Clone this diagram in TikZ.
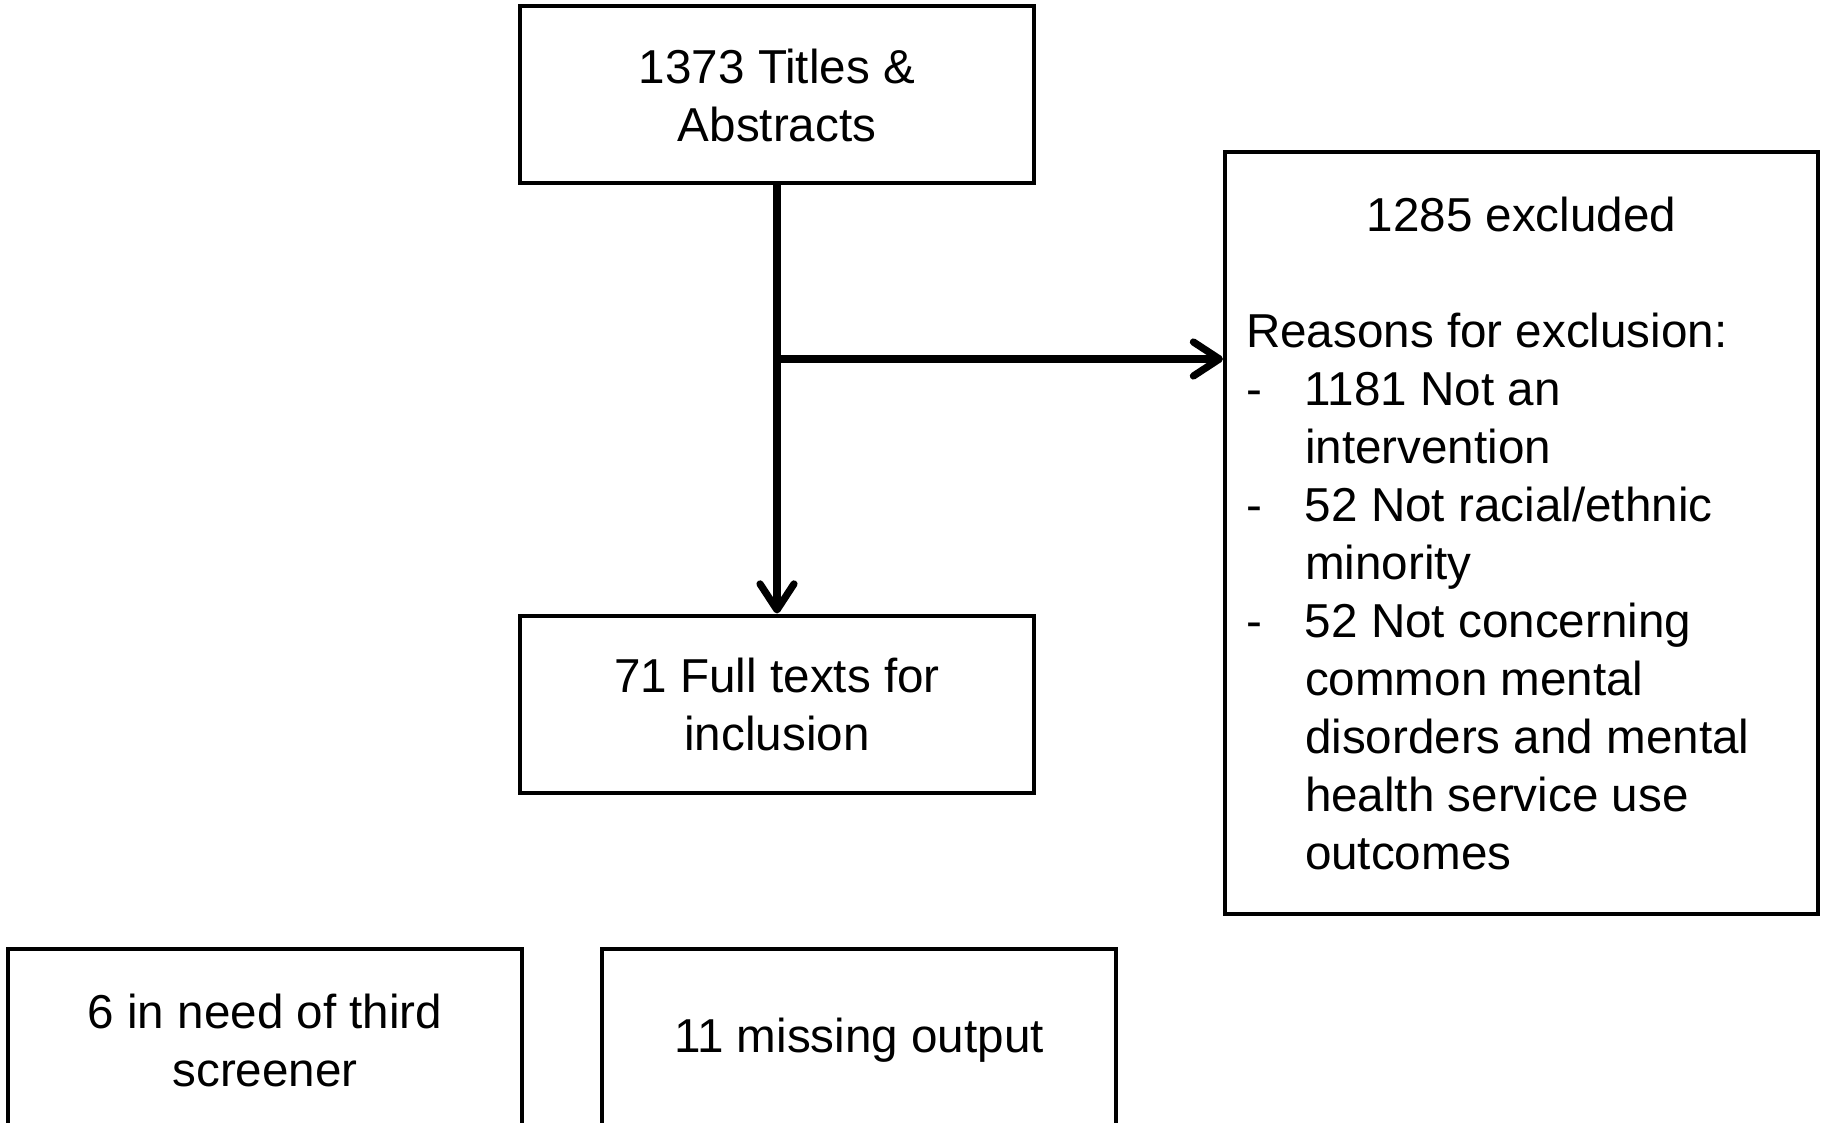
\documentclass[tikz,border=0pt]{standalone}
\usepackage{fontspec}
\setmainfont{Liberation Sans}
\usetikzlibrary{arrows.meta,positioning}
\newcommand{\reason}[1]{\par\hangindent=29.5pt\hangafter=1\noindent\makebox[29.5pt][l]{-}#1}
\begin{document}
\begin{tikzpicture}[x=0.5pt,y=-0.5pt,>={Straight Barb[length=13pt,width=17pt,round]},
		box/.style={draw,rectangle,line width=2pt,minimum width=257pt,minimum height=88.5pt,inner sep=0pt,align=center,font=\fontsize{23.8}{29}\selectfont},
		flow/.style={->,line width=3.6pt}]
		\useasboundingbox (0,0) rectangle (1821,1123);
		% screening of titles and abstracts
		\node[box] (titles) at (777,95) {1373 Titles \&\\Abstracts};
		\node[box] (fulltext) [below=214pt of titles] {71 Full texts for\\inclusion};
		\node[box,minimum width=296.5pt,minimum height=380.5pt,text width=275.5pt,align=flush left] (excluded) at (1521.5,533)
		{\centering 1285 excluded\par\vspace{\baselineskip}\raggedright Reasons for exclusion:
			\reason{1181 Not an\newline intervention}
			\reason{52 Not racial/ethnic\newline minority}
			\reason{52 Not concerning\newline common mental\newline disorders and mental\newline health service use\newline outcomes}\par};
		\node[box,minimum height=91pt] (third) at (265,1040) {6 in need of third\\screener};
		\node[box,minimum height=91pt] (missing) [right=38pt of third] {11 missing output};
		\coordinate (split) at (777,359);
		\draw[flow] (split) -- (split -| excluded.west);
		\draw[flow] (titles) -- (fulltext);
\end{tikzpicture}
\end{document}
